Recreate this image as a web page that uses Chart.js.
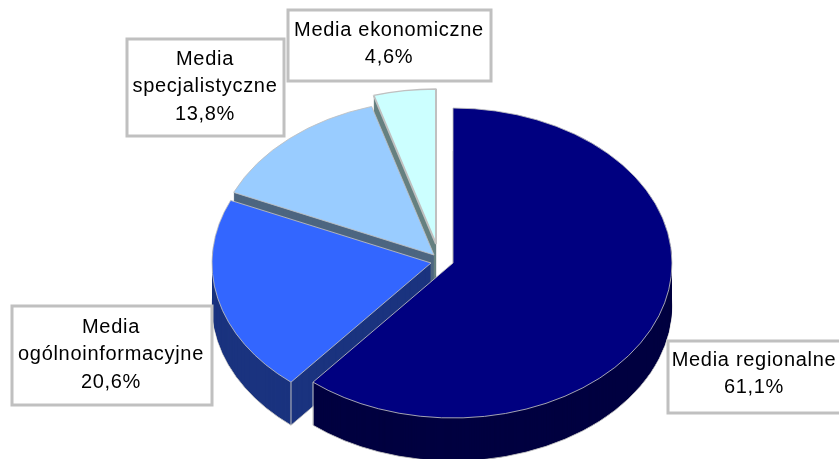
<!DOCTYPE html>
<html><head><meta charset="utf-8">
<style>html,body{margin:0;padding:0;background:#fff}canvas{display:block}</style>
<script src="https://cdn.jsdelivr.net/npm/chart.js@4"></script>
</head><body>
<canvas id="c" width="839" height="459"></canvas>
<script>
const categories = ['Media regionalne','Media ogólnoinformacyjne','Media specjalistyczne','Media ekonomiczne'];
const shares = [61.1,20.6,13.8,4.6];
const topColors = ['#000080','#3366FF','#99CCFF','#CCFFFF'];
const sideColors = ['#000040','#1A337F','#4D6680','#668080'];
const borderWidths = [1,1,1,2];

// layout of the tilted, exploded pie
const RADIUS = 219, TILT = 155/219, DEPTH = 43;
const apexX = [453,431,434,436], apexY = [263,263,255,244];
const boxes = [
  {x:668,y:341,w:180,h:72,cx:754,ly:360,split:false},
  {x:12,y:306,w:200,h:99,cx:111,ly:327,split:true},
  {x:127,y:39,w:157,h:97,cx:205,ly:59,split:true},
  {x:288,y:10,w:203,h:71,cx:389,ly:30,split:false}
];

function placed(ctx,el,i,dy,fn){
  ctx.save();
  ctx.translate(apexX[i],apexY[i]+dy);
  ctx.scale(1,TILT);
  ctx.translate(-el.x,-el.y);
  fn();
  ctx.restore();
}
const pie3d = {
  id:'pie3d',
  beforeDatasetsDraw(chart){
    const ctx = chart.ctx, arcs = chart.getDatasetMeta(0).data;
    for(let i=arcs.length-1;i>=0;i--){
      const el = arcs[i], orig = el.options;
      for(let k=DEPTH;k>=1;k--){
        el.options = Object.assign({},orig,{backgroundColor:sideColors[i],
          borderWidth:k===DEPTH?1:0,borderColor:'#c0c0c0'});
        placed(ctx,el,i,k,()=>el.draw(ctx));
      }
      el.options = orig;
      [el.startAngle,el.endAngle].forEach(a=>{
        if(Math.sin(a)<=0) return;
        const px=apexX[i]+RADIUS*Math.cos(a), py=apexY[i]+RADIUS*TILT*Math.sin(a);
        ctx.save();ctx.strokeStyle='#c0c0c0';ctx.lineWidth=1;
        ctx.beginPath();ctx.moveTo(px,py);ctx.lineTo(px,py+DEPTH);ctx.stroke();ctx.restore();
      });
      placed(ctx,el,i,0,()=>el.draw(ctx));
    }
    return false;
  },
  afterDraw(chart){
    const ctx = chart.ctx;
    ctx.save();
    boxes.forEach((b,i)=>{
      ctx.fillStyle='#fff';ctx.strokeStyle='#c0c0c0';ctx.lineWidth=3;
      ctx.fillRect(b.x,b.y,b.w,b.h);ctx.strokeRect(b.x,b.y,b.w,b.h);
      const lines = b.split?categories[i].split(' '):[categories[i]];
      lines.push(String(shares[i]).replace('.',',')+'%');
      ctx.fillStyle='#000';ctx.font='20px "Liberation Sans"';
      ctx.letterSpacing='0.7px';
      ctx.textAlign='center';ctx.textBaseline='middle';
      lines.forEach((t,j)=>ctx.fillText(t,b.cx,b.ly+j*27.5));
    });
    ctx.restore();
  }
};
new Chart(document.getElementById('c'),{
  type:'pie',
  data:{labels:categories,datasets:[{data:shares,backgroundColor:topColors,
    borderColor:'#c0c0c0',borderWidth:borderWidths}]},
  options:{responsive:false,animation:false,radius:RADIUS,
    layout:{padding:0},
    plugins:{legend:{display:false},tooltip:{enabled:false}}},
  plugins:[pie3d]
});
</script>
</body></html>
